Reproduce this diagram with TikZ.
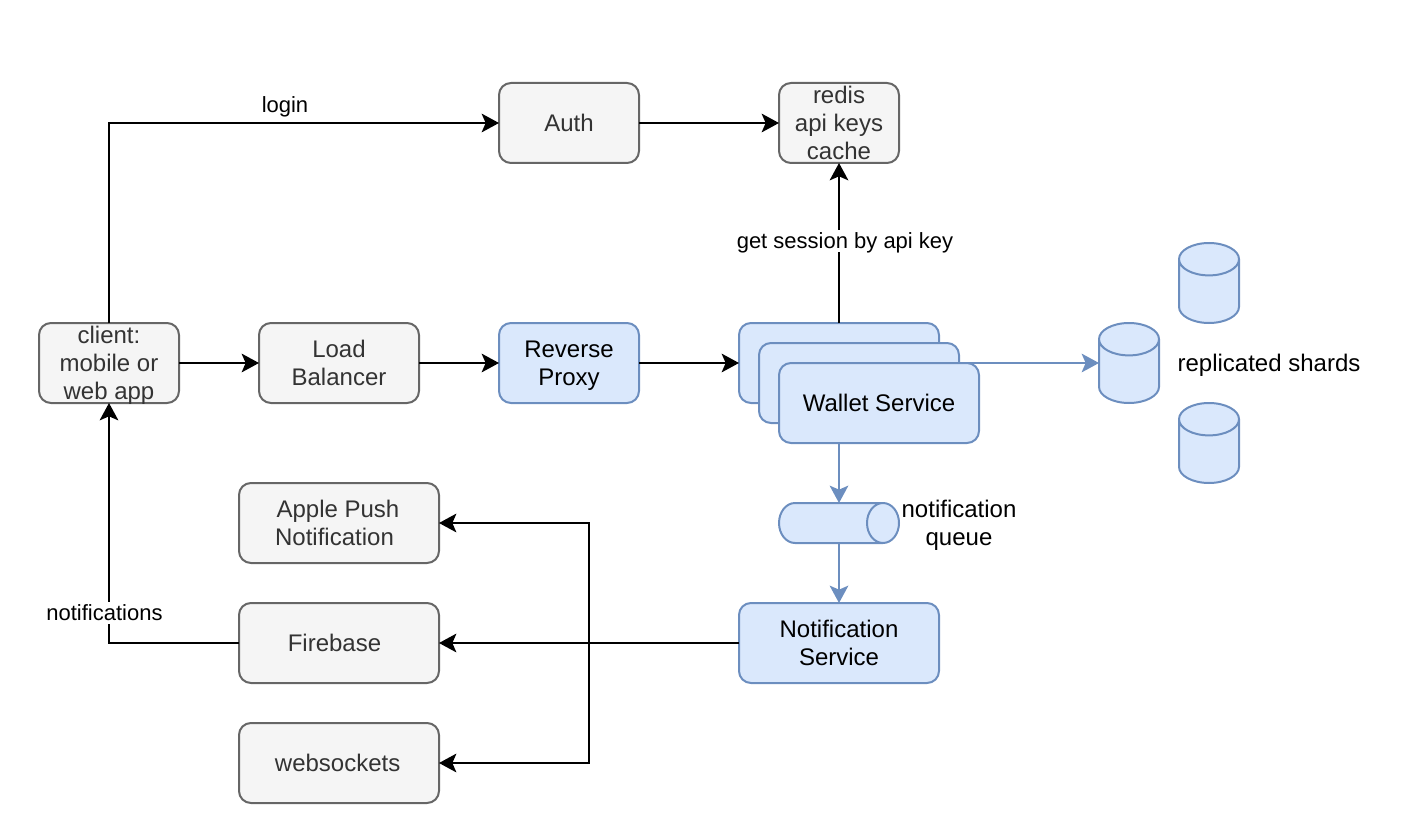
\documentclass[tikz,border=0pt]{standalone}
\usepackage{fontspec}
\setmainfont{Liberation Sans}
\usetikzlibrary{arrows.meta,shapes.geometric}
\definecolor{grayfill}{HTML}{F5F5F5}
\definecolor{graydraw}{HTML}{666666}
\definecolor{graytext}{HTML}{333333}
\definecolor{bluefill}{HTML}{DAE8FC}
\definecolor{bluedraw}{HTML}{6C8EBF}
\tikzset{
  box/.style={draw, rectangle, rounded corners=9pt, line width=1.5pt, inner sep=0pt, outer sep=0pt,
    align=center, font=\fontsize{18}{21}\selectfont, minimum height=60pt},
  graybox/.style={box, fill=grayfill, draw=graydraw, text=graytext},
  bluebox/.style={box, fill=bluefill, draw=bluedraw, text=black},
  dbcyl/.style={draw=bluedraw, fill=bluefill, line width=1.5pt, cylinder, anchor=shape center, shape border rotate=90, shape aspect=0.54,
    minimum width=45pt, minimum height=60pt, inner sep=0pt, outer sep=0pt},
  queuecyl/.style={draw=bluedraw, fill=bluefill, line width=1.5pt, cylinder, anchor=shape center, shape aspect=0.8,
    minimum width=30pt, minimum height=90pt, inner sep=0pt, outer sep=0pt},
  conn/.style={line width=1.5pt, -{Stealth[length=13pt,width=14pt,inset=3pt]}},
  blueconn/.style={conn, draw=bluedraw},
  biglabel/.style={align=center, font=\fontsize{18}{21}\selectfont, inner sep=0pt},
  smalllabel/.style={font=\fontsize{16.5}{19}\selectfont, text height=11.8pt, text depth=0pt, inner sep=2pt}
}
\begin{document}
\begin{tikzpicture}[x=0.75pt, y=-0.75pt]
    \useasboundingbox (0,0) rectangle (1408,834);
    \node[graybox, minimum width=105pt] (client) at (109,363) {client:\\mobile or\\\smash{web app}};
    \node[graybox, minimum width=120pt] (balancer) at (339,363) {Load\\Balancer};
    \node[bluebox, minimum width=105pt] (proxy) at (569,363) {Reverse\\\smash{Proxy}};
    \node[graybox, minimum width=105pt] (auth) at (569,123) {Auth};
    \node[graybox, minimum width=90pt] (redis) at (839,123) {redis\\api keys\\cache};
    \node[bluebox, minimum width=150pt] (walletback) at (839,363) {};
    \node[dbcyl] (dbmain) at (1129,363) {\rule{45pt}{0pt}};
    \node[dbcyl] (dbtop) at (1209,283) {\rule{45pt}{0pt}};
    \node[dbcyl] (dbbottom) at (1209,443) {\rule{45pt}{0pt}};
    \node[queuecyl] (queue) at (839,523) {\rule{0pt}{30pt}};
    \node[bluebox, minimum width=150pt] (notifservice) at (839,643) {Notification\\Service};
    \node[graybox, minimum width=150pt] (apple) at (339,523) {Apple Push\rule{1.5pt}{0pt}\\Notification\rule{6.75pt}{0pt}};
    \node[graybox, minimum width=150pt] (firebase) at (339,643) {Firebase\rule{6.75pt}{0pt}};
    \node[graybox, minimum width=150pt] (websockets) at (339,763) {websockets\rule{2pt}{0pt}};

    \draw[blueconn] (walletback.east) -- (walletback.east -| dbmain.west);
    \draw[blueconn] (walletback.south) -- (walletback.south |- queue.north);
    \draw[blueconn] (walletback.south |- queue.south) -- (notifservice.north);
    \node[bluebox, minimum width=150pt] (walletmid) at (859,383) {};
    \node[bluebox, minimum width=150pt] (walletfront) at (879,403) {Wallet Service};

    \draw[conn] (client.north) |- (auth.west);
    \draw[conn] (auth.east) -- (redis.west);
    \draw[conn] (client.east) -- (balancer.west);
    \draw[conn] (balancer.east) -- (proxy.west);
    \draw[conn] (proxy.east) -- (walletback.west);
    \draw[conn] (walletback.north) -- (redis.south);
    \draw[conn] (firebase.west) -| (client.south);
    \draw[conn] (notifservice.west) -- (firebase.east);
    \coordinate (branch) at (589,643);
    \draw[conn] (branch) |- (apple.east);
    \draw[conn] (branch) |- (websockets.east);

    \node[smalllabel] (loginlabel) at (285,105) {login};
    \node[smalllabel, fill=white] (sessionlabel) at (845,241) {get session by api key};
    \node[smalllabel, fill=white] (notiflabel) at (104.5,613) {notifications};
    \node[biglabel] (queuelabel) at (959,523) {notification\\\smash{queue}};
    \node[biglabel, text depth=0pt] (shardslabel) at (1269,363) {replicated shards};
\end{tikzpicture}
\end{document}
